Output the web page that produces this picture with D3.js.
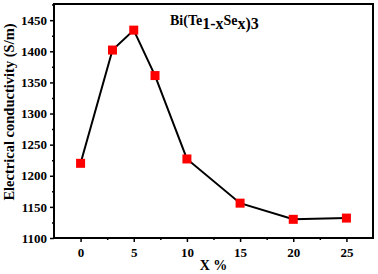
<!DOCTYPE html>
<html>
<head>
<meta charset="utf-8">
<script src="https://cdn.jsdelivr.net/npm/d3@7"></script>
<style>
  body { margin: 0; background: #fff; }
  text { font-family: "Liberation Serif", "Times New Roman", serif; font-weight: bold; }
</style>
</head>
<body>
<div id="chart"></div>
<script>
const xValues = [0, 3, 5, 7, 10, 15, 20, 25];
const conductivity = [1220, 1402, 1434, 1361, 1227, 1156, 1130, 1132];
const xTicks = [0, 5, 10, 15, 20, 25];
const yTicks = [1100, 1150, 1200, 1250, 1300, 1350, 1400, 1450];

const width = 378;
const height = 274;
const margin = {top: 4, left: 54, right: 5, bottom: 36};

const svg = d3.select("#chart")
    .append("svg")
    .attr("width", width)
    .attr("height", height);

const xScale = d3.scaleLinear()
    .domain([-2.5, 27.5])
    .range([margin.left, width - margin.right]);

const yScale = d3.scaleLinear()
    .domain([1100, 1476])
    .range([height - margin.bottom, margin.top]);

// minor ticks
const xMinor = [2.5, 7.5, 12.5, 17.5, 22.5];
const yMinor = d3.range(1125, 1476, 50);

svg.append("g")
    .attr("transform", `translate(0,${height - margin.bottom})`)
    .call(d3.axisBottom(xScale).tickValues(xTicks).tickFormat(d3.format("d")).tickSize(4).tickPadding(6).tickSizeOuter(0));
svg.append("g")
    .attr("transform", `translate(0,${height - margin.bottom})`)
    .call(d3.axisBottom(xScale).tickValues(xMinor).tickSize(2).tickFormat("").tickSizeOuter(0));

svg.append("g")
    .attr("transform", `translate(${margin.left},0)`)
    .call(d3.axisLeft(yScale).tickValues(yTicks).tickFormat(d3.format("d")).tickSize(4).tickPadding(3).tickSizeOuter(0));
svg.append("g")
    .attr("transform", `translate(${margin.left},0)`)
    .call(d3.axisLeft(yScale).tickValues(yMinor).tickSize(2).tickFormat("").tickSizeOuter(0));

svg.selectAll(".tick line").attr("stroke", "#000").attr("stroke-width", 1.5);
svg.selectAll(".tick text")
    .attr("font-size", 13)
    .attr("fill", "#000")
    .style("font-family", "'Liberation Serif', serif")
    .style("font-weight", "bold");

// frame
svg.selectAll(".domain").remove();
svg.append("rect")
    .attr("x", margin.left)
    .attr("y", margin.top)
    .attr("width", width - margin.left - margin.right)
    .attr("height", height - margin.top - margin.bottom)
    .attr("fill", "none")
    .attr("stroke", "#000")
    .attr("stroke-width", 2);

const data = xValues.map((x, i) => ({x: x, y: conductivity[i]}));

const line = d3.line()
    .x(d => xScale(d.x))
    .y(d => yScale(d.y));

svg.append("path")
    .datum(data)
    .attr("d", line)
    .attr("fill", "none")
    .attr("stroke", "#000")
    .attr("stroke-width", 2);

svg.selectAll("rect.pt")
    .data(data)
    .enter()
    .append("rect")
    .attr("class", "pt")
    .attr("x", d => xScale(d.x) - 4.5)
    .attr("y", d => yScale(d.y) - 4.5)
    .attr("width", 9)
    .attr("height", 9)
    .attr("fill", "#ff0000");

// axis labels
svg.append("text")
    .attr("x", xScale(12.5))
    .attr("y", 270)
    .attr("text-anchor", "middle")
    .attr("font-size", 14)
    .text("X %");

svg.append("text")
    .attr("transform", "translate(14,112) rotate(-90)")
    .attr("text-anchor", "middle")
    .attr("font-size", 14.5)
    .text("Electrical conductivity (S/m)");

// formula label
const title = svg.append("text")
    .attr("x", 170)
    .attr("y", 25)
    .attr("font-size", 14);
title.append("tspan").text("Bi(Te");
title.append("tspan").attr("dy", 4).attr("font-size", 16).text("1-x");
title.append("tspan").attr("dy", -4).text("Se");
title.append("tspan").attr("dy", 4).attr("font-size", 16).text("x");
title.append("tspan").attr("font-size", 16).text(")3");
</script>
</body>
</html>
